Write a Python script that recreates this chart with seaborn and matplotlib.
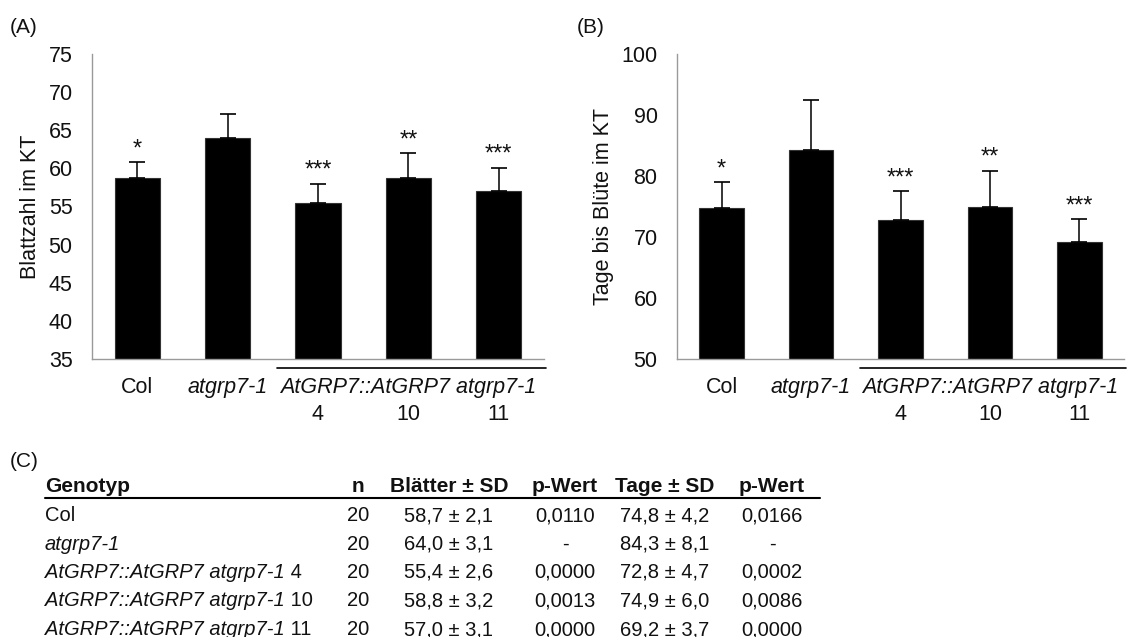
import numpy as np
import pandas as pd
import matplotlib
matplotlib.use("Agg")
import matplotlib.pyplot as plt
import matplotlib.transforms as mtransforms
from matplotlib.lines import Line2D
import seaborn as sns

# ---- data ----
genotypes = ["Col", "atgrp7-1", "AtGRP7::AtGRP7 atgrp7-1 4",
             "AtGRP7::AtGRP7 atgrp7-1 10", "AtGRP7::AtGRP7 atgrp7-1 11"]
line_numbers = ["", "", "4", "10", "11"]
n_plants = [20, 20, 20, 20, 20]

leaves_mean = [58.7, 64.0, 55.4, 58.8, 57.0]
leaves_sd = [2.1, 3.1, 2.6, 3.2, 3.1]
leaves_p = [0.0110, None, 0.0000, 0.0013, 0.0000]

days_mean = [74.8, 84.3, 72.8, 74.9, 69.2]
days_sd = [4.2, 8.1, 4.7, 6.0, 3.7]
days_p = [0.0166, None, 0.0002, 0.0086, 0.0000]

stars = ["*", "", "***", "**", "***"]

# table name parts: italic part + upright part
name_italic = ["", "atgrp7-1", "AtGRP7::AtGRP7 atgrp7-1",
               "AtGRP7::AtGRP7 atgrp7-1", "AtGRP7::AtGRP7 atgrp7-1"]
name_plain = ["Col", "", " 4", " 10", " 11"]

sns.set_style("white")
plt.rcParams['font.family'] = ['Liberation Sans', 'DejaVu Sans']

W, H = 1134, 637
fig = plt.figure(figsize=(W / 100, H / 100), dpi=100)


def fx(x):
    return x / W


def fy(y):
    return 1 - y / H


spine_col = '#9a9a9a'
txt_col = '#111111'


def draw_panel(ax, means, sds, ylim, step, ylabel, label_x):
    df = pd.DataFrame({'g': genotypes, 'v': means})
    sns.barplot(data=df, x='g', y='v', order=genotypes, color='black',
                width=0.5, edgecolor='#333333', linewidth=0.8, ax=ax,
                errorbar=None, saturation=1)
    ax.errorbar(np.arange(len(means)), means,
                yerr=[np.zeros(len(sds)), sds], fmt='none', ecolor='black',
                elinewidth=1.1, capsize=6, capthick=1.2, zorder=5)
    ax.set_ylim(*ylim)
    ax.set_yticks(np.arange(ylim[0], ylim[1] + 0.1, step))
    ax.set_xlim(-0.5, len(means) - 0.5)
    ax.set_xticks(np.arange(-0.5, len(means)), labels=[''] * (len(means) + 1))
    ax.tick_params(axis='y', length=5, width=1, color=spine_col,
                   labelsize=15.5, labelcolor=txt_col, pad=9)
    ax.tick_params(axis='x', length=5, width=1, color=spine_col)
    for s in ['top', 'right']:
        ax.spines[s].set_visible(False)
    for s in ['left', 'bottom']:
        ax.spines[s].set_color(spine_col)
        ax.spines[s].set_linewidth(1)
    ax.set_xlabel('')
    ax.set_ylabel(ylabel, fontsize=15.5, color=txt_col)
    ax.yaxis.set_label_coords(label_x, 0.5)

    # significance stars
    for i, (m, s, st) in enumerate(zip(means, sds, stars)):
        if st:
            ax.annotate(st, (i, m + s), xytext=(0, 5), textcoords='offset points',
                        ha='center', va='baseline', fontsize=17, color=txt_col)

    # category labels (two rows) and group label
    tr = mtransforms.blended_transform_factory(ax.transData, ax.transAxes)
    ax_h = ax.get_position().height * H
    row1 = -34 / ax_h
    row2 = -61 / ax_h
    ax.text(0, row1, genotypes[0], transform=tr, ha='center', va='baseline',
            fontsize=15.5, color=txt_col)
    ax.text(1, row1, genotypes[1], transform=tr, ha='center', va='baseline',
            fontsize=15.5, color=txt_col, style='italic')
    ax.text(3, row1, "AtGRP7::AtGRP7 atgrp7-1", transform=tr, ha='center',
            va='baseline', fontsize=15.5, color=txt_col, style='italic')
    for i, num in enumerate(line_numbers):
        if num:
            ax.text(i, row2, num, transform=tr, ha='center', va='baseline',
                    fontsize=15.5, color=txt_col)
    ax.add_line(Line2D([1.55, 4.52], [-9 / ax_h, -9 / ax_h], transform=tr,
                       color='black', lw=1.2, clip_on=False))


ax_a = fig.add_axes([fx(92), fy(359), fx(452), 305 / H])
draw_panel(ax_a, leaves_mean, leaves_sd, (35, 75), 5, "Blattzahl im KT", -0.113)

ax_b = fig.add_axes([fx(677), fy(359), fx(447), 305 / H])
draw_panel(ax_b, days_mean, days_sd, (50, 100), 10, "Tage bis Blüte im KT", -0.141)

fig.text(fx(10), fy(33), "(A)", fontsize=15, color=txt_col, va='baseline')
fig.text(fx(577), fy(33), "(B)", fontsize=15, color=txt_col, va='baseline')
fig.text(fx(10), fy(467), "(C)", fontsize=15, color=txt_col, va='baseline')

# ---- table (C) ----
col_x = [358, 449, 565, 665, 772]
headers = ["n", "Blätter ± SD", "p-Wert", "Tage ± SD", "p-Wert"]
fig.text(fx(45), fy(492), "Genotyp", fontsize=15, fontweight='bold',
         color=txt_col, va='baseline')
for cx, h in zip(col_x, headers):
    fig.text(fx(cx), fy(492), h, fontsize=15, fontweight='bold',
             color=txt_col, ha='center', va='baseline')
fig.add_artist(Line2D([fx(45), fx(820)], [fy(497.5), fy(497.5)],
                      color='black', lw=1.5))


def fmt_msd(m, s):
    return f"{m:.1f} ± {s:.1f}".replace('.', ',')


def fmt_p(p):
    return '-' if p is None else f"{p:.4f}".replace('.', ',')


renderer = fig.canvas.get_renderer()
row_y = 521
for i in range(len(genotypes)):
    x0 = 45
    if name_italic[i]:
        t = fig.text(fx(x0), fy(row_y), name_italic[i], fontsize=14.5,
                     style='italic', color=txt_col, va='baseline')
        x0 = t.get_window_extent(renderer).x1
    if name_plain[i]:
        fig.text(fx(x0), fy(row_y), name_plain[i], fontsize=14.5,
                 color=txt_col, va='baseline')
    cells = [str(n_plants[i]), fmt_msd(leaves_mean[i], leaves_sd[i]),
             fmt_p(leaves_p[i]), fmt_msd(days_mean[i], days_sd[i]),
             fmt_p(days_p[i])]
    for cx, c in zip(col_x, cells):
        fig.text(fx(cx), fy(row_y), c, fontsize=14.5, color=txt_col,
                 ha='center', va='baseline')
    row_y += 28.5

fig.savefig("out.png", dpi=100)
